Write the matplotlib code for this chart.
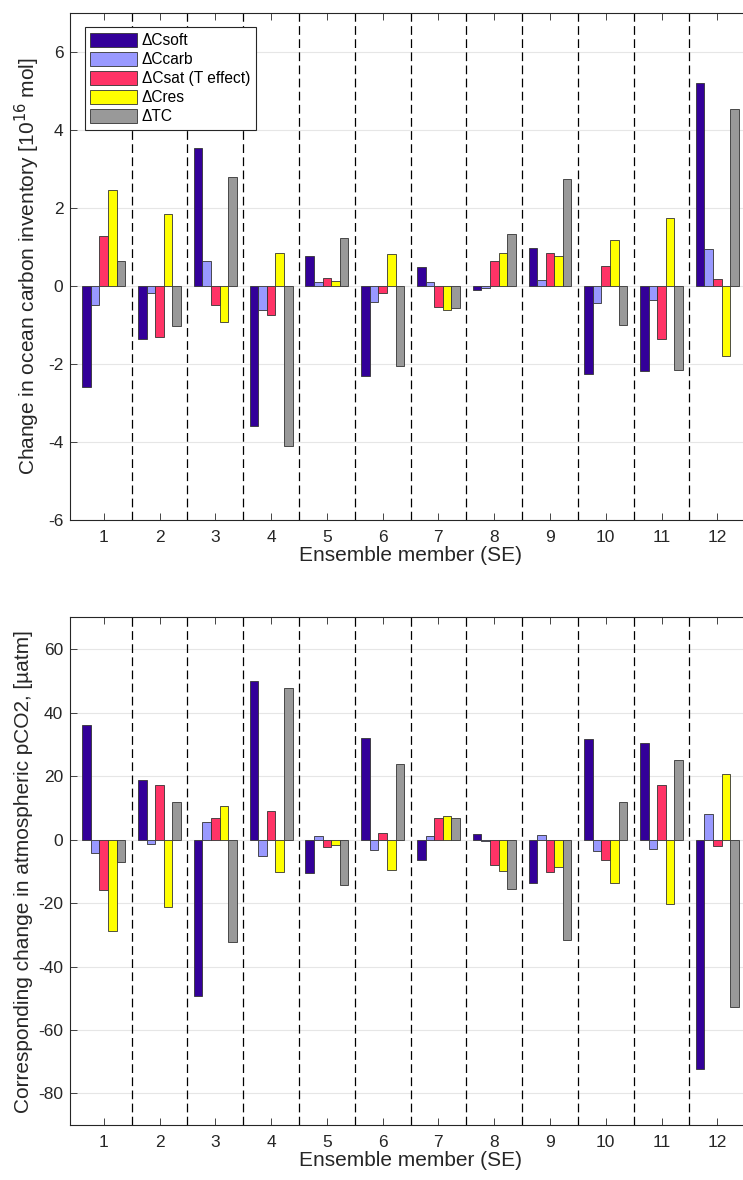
import matplotlib

matplotlib.use("Agg")

import matplotlib.pyplot as plt
import numpy as np

plt.rcParams["font.family"] = ["Liberation Sans", "DejaVu Sans"]

# Ensemble members on the x axis.
MEMBERS = list(range(1, 13))

# Change in ocean carbon inventory, 10^16 mol.
inv_soft = [-2.60, -1.36, 3.54, -3.59, 0.76, -2.30, 0.48, -0.11, 0.98, -2.27, -2.19, 5.20]
inv_carb = [-0.50, -0.19, 0.64, -0.63, 0.11, -0.41, 0.09, -0.05, 0.14, -0.43, -0.35, 0.95]
inv_sat = [1.27, -1.32, -0.49, -0.75, 0.21, -0.18, -0.53, 0.65, 0.84, 0.52, -1.36, 0.18]
inv_res = [2.47, 1.85, -0.93, 0.85, 0.13, 0.81, -0.62, 0.84, 0.77, 1.17, 1.74, -1.79]
inv_tc = [0.63, -1.02, 2.78, -4.11, 1.23, -2.05, -0.57, 1.34, 2.73, -1.00, -2.15, 4.54]

# Corresponding change in atmospheric pCO2, uatm.
pco2_soft = [36.0, 18.8, -49.3, 49.8, -10.6, 31.9, -6.5, 1.6, -13.6, 31.5, 30.4, -72.3]
pco2_carb = [-4.2, -1.5, 5.5, -5.1, 1.1, -3.4, 1.0, -0.4, 1.4, -3.5, -2.9, 8.0]
pco2_sat = [-15.8, 17.1, 6.7, 9.1, -2.4, 2.1, 6.7, -8.0, -10.3, -6.5, 17.3, -2.0]
pco2_res = [-28.7, -21.4, 10.7, -10.1, -1.6, -9.5, 7.4, -9.8, -8.7, -13.6, -20.2, 20.7]
pco2_tc = [-7.1, 11.8, -32.4, 47.6, -14.2, 23.8, 6.7, -15.6, -31.8, 11.7, 24.9, -52.6]

SERIES_LABELS = ["\u0394Csoft", "\u0394Ccarb", "\u0394Csat (T effect)", "\u0394Cres", "\u0394TC"]
SERIES_COLORS = ["#330099", "#9999ff", "#ff3366", "#ffff00", "#999999"]

AX_COLOR = "#262626"
GROUP_WIDTH = 5 / 6.5  # grouped-bar width used by the original plotting tool


def draw_panel(ax, series, ylim, yticks, ylabel, legend=False):
    x = np.array(MEMBERS, dtype=float)
    n = len(series)
    w = GROUP_WIDTH / n
    for i, (vals, color, label) in enumerate(zip(series, SERIES_COLORS, SERIES_LABELS)):
        ax.bar(
            x + (i - (n - 1) / 2) * w, vals, width=w, color=color,
            edgecolor="#333333", linewidth=0.6, label=label, zorder=3,
        )

    # dashed separators between ensemble members
    for xs in x[:-1] + 0.5:
        ax.axvline(xs, color="k", lw=0.9, linestyle=(0, (7, 3.5)), zorder=2)

    ax.set_xlim(0.4, 12.6)
    ax.set_ylim(*ylim)
    ax.set_xticks(MEMBERS)
    ax.set_yticks(yticks)
    ax.set_yticklabels([f"{t:g}" for t in yticks])
    ax.yaxis.grid(True, color="#e6e6e6", lw=0.8, zorder=0)
    ax.set_axisbelow(True)
    ax.tick_params(direction="in", top=True, right=True, length=5, width=0.6,
                   colors=AX_COLOR, labelsize=12.5)
    ax.tick_params(axis="x", pad=7)
    ax.tick_params(axis="y", pad=5)
    for sp in ax.spines.values():
        sp.set_color(AX_COLOR)
        sp.set_linewidth(0.8)

    ax.set_xlabel("Ensemble member (SE)", fontsize=15, color=AX_COLOR, labelpad=1)
    ax.set_ylabel(ylabel, fontsize=15, color=AX_COLOR, labelpad=4)

    if legend:
        leg = ax.legend(
            loc="upper left", bbox_to_anchor=(0.0215, 0.971), fontsize=11.2,
            frameon=True, fancybox=False, edgecolor=AX_COLOR, framealpha=1,
            handlelength=3.0, handleheight=1.05, handletextpad=0.3,
            labelspacing=0.22, borderpad=0.35, borderaxespad=0,
        )
        leg.get_frame().set_linewidth(0.8)


def main():
    fig = plt.figure(figsize=(7.43, 11.8), dpi=100)

    ax_top = fig.add_axes([0.0946, 0.5593, 0.9159, 0.4299])
    draw_panel(
        ax_top, [inv_soft, inv_carb, inv_sat, inv_res, inv_tc],
        (-6, 7), [-6, -4, -2, 0, 2, 4, 6],
        "Change in ocean carbon inventory [10$^{16}$ mol]", legend=True,
    )

    ax_bot = fig.add_axes([0.0946, 0.0464, 0.9159, 0.4305])
    draw_panel(
        ax_bot, [pco2_soft, pco2_carb, pco2_sat, pco2_res, pco2_tc],
        (-90, 70), [-80, -60, -40, -20, 0, 20, 40, 60],
        "Corresponding change in atmospheric pCO2, [\u00b5atm]",
    )

    fig.savefig("out.png", dpi=100)


if __name__ == "__main__":
    main()
